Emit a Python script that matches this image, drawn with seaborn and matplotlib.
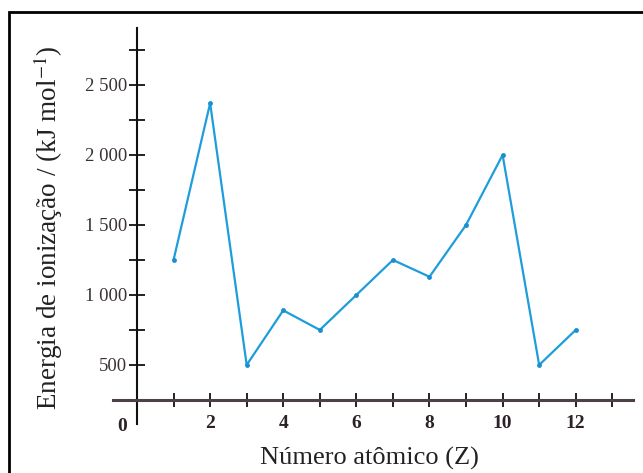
import matplotlib
matplotlib.use("Agg")
import matplotlib.pyplot as plt
import seaborn as sns
import pandas as pd
from matplotlib.patches import Rectangle

# values
atomic_number = [1, 2, 3, 4, 5, 6, 7, 8, 9, 10, 11, 12]
ionization_energy = [1250, 2370, 500, 890, 750, 1000, 1250, 1130, 1500, 2000, 500, 750]

y_major = [500, 1000, 1500, 2000, 2500]
y_major_labels = ["500", "1 000", "1 500", "2 000", "2 500"]
y_minor = [750, 1250, 1750, 2250, 2750]
x_ticks = list(range(1, 14))
x_labels = ["", "2", "", "4", "", "6", "", "8", "", "10", "", "12", ""]

sns.set_style("white")
plt.rcParams["font.family"] = ["Liberation Serif", "DejaVu Serif"]
plt.rcParams["mathtext.fontset"] = "stix"

df = pd.DataFrame({"Z": atomic_number, "E": ionization_energy})

W, H = 643, 473
fig = plt.figure(figsize=(W / 100, H / 100), dpi=100)

# axes placed in pixel terms: left 100, right 640, top 20, bottom 440
ax = fig.add_axes([100 / W, (H - 440) / H, 540 / W, 420 / H])

line_color = "#1d9ddb"
sns.lineplot(data=df, x="Z", y="E", ax=ax, color=line_color, linewidth=1.6,
             marker="o", markersize=3.5, markeredgewidth=0, markerfacecolor="#1a8fcf")

ax.set_xlim(-1.012, 13.758)
ax.set_ylim(-36, 2964)

for side in ["top", "right"]:
    ax.spines[side].set_visible(False)
ax.spines["left"].set_position(("data", 0))
ax.spines["left"].set_bounds(79, 2905)
ax.spines["left"].set_linewidth(1.5)
ax.spines["left"].set_color("#111111")
ax.spines["bottom"].set_position(("data", 250))
ax.spines["bottom"].set_bounds(-0.66, 13.56)
ax.spines["bottom"].set_linewidth(2.2)
ax.spines["bottom"].set_color("#4d404b")

ax.set_yticks(y_major)
ax.set_yticklabels(y_major_labels)
ax.set_yticks(y_minor, minor=True)
ax.set_xticks(x_ticks)
ax.set_xticklabels(x_labels)

ax.tick_params(axis="y", which="both", left=True, direction="inout", length=12,
               width=1.4, color="#222222", pad=1, labelsize=13.5,
               labelcolor="#3a3238")
ax.tick_params(axis="x", which="major", bottom=True, direction="inout",
               length=9.5, width=1.4, color="#222222", pad=6, labelsize=14,
               labelcolor="#2a2228")
for lab in ax.get_xticklabels():
    lab.set_fontweight("bold")

ax.text(-0.4, 57, "0", ha="center", va="center", fontsize=14,
        fontweight="bold", color="#2a2228")

ax.set_xlabel("")
ax.set_ylabel("")
fig.text(369 / W, 1 - 458 / H, "Número atômico (Z)", ha="center", va="center",
         fontsize=19, color="#222222")
fig.text(48 / W, 1 - 228 / H, r"Energia de ionização / (kJ mol$^{-1}$)",
         ha="center", va="center", rotation=90, fontsize=19.5, color="#222222")

# frame around the picture, cut at right and bottom like the reference
fig.patches.append(Rectangle((9 / W, -0.1), 1.2, (1 - 12 / H) + 0.1,
                             transform=fig.transFigure, fill=False,
                             edgecolor="black", linewidth=2, figure=fig))

fig.savefig("out.png", dpi=100)
